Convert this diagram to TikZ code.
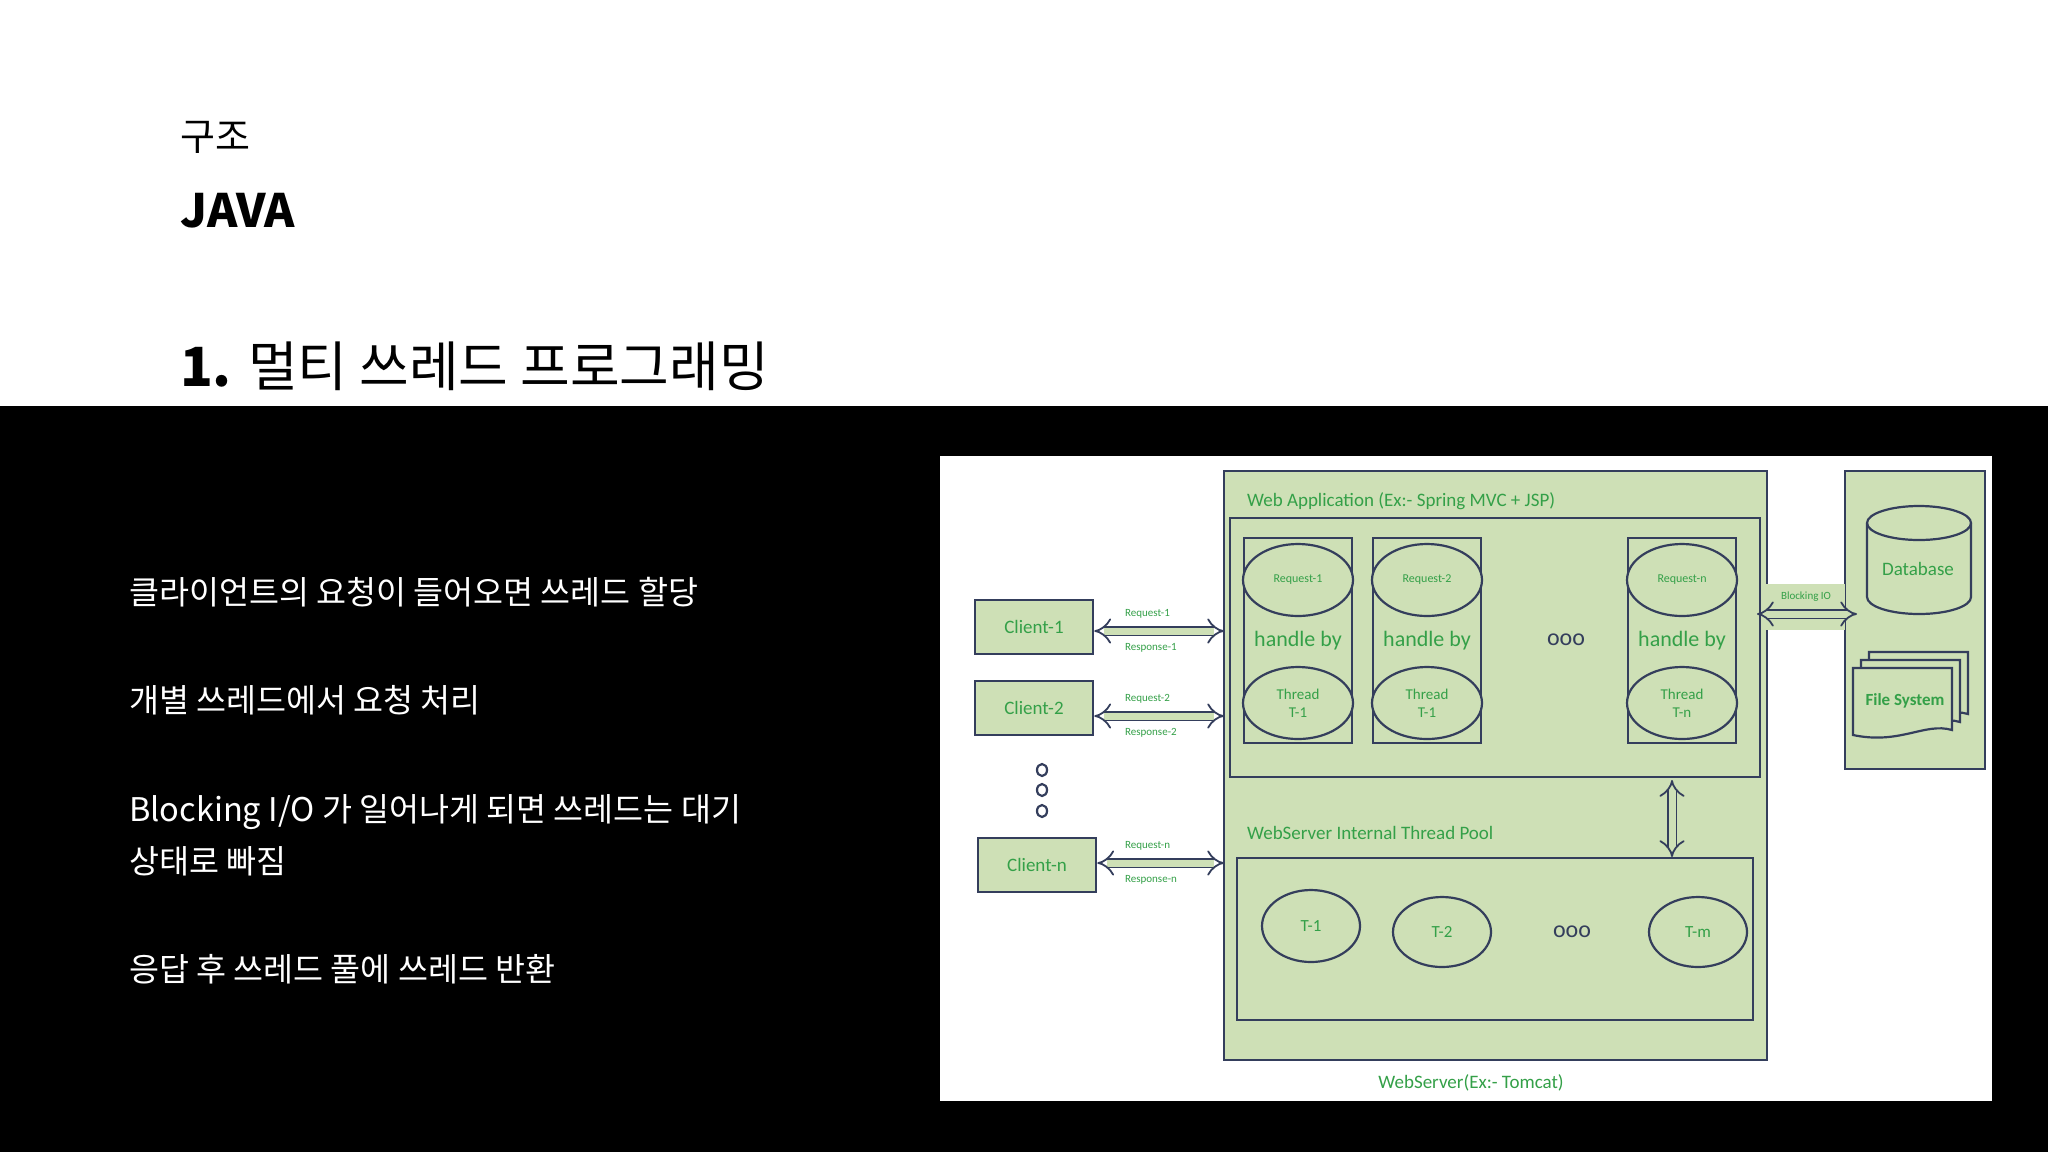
\documentclass[tikz,border=0pt]{standalone}
\usepackage{fontspec}
\setmainfont{Noto Sans CJK KR}
\newfontfamily\calfnt{Carlito}
\usetikzlibrary{arrows.meta,shapes.geometric}
\definecolor{gfill}{RGB}{206,224,182}
\definecolor{gline}{RGB}{52,62,92}
\definecolor{gtext}{RGB}{52,160,72}
\tikzset{
 gbox/.style={draw=gline,line width=1.3pt,fill=gfill},
 ell/.style={draw=gline,line width=1.1pt,ellipse,fill=gfill,inner sep=0pt},
 lbl/.style={text=gtext,font=\calfnt},
 darr/.style={draw=gline,line width=0.9pt,double=gfill,double distance=3.5pt,{Implies}-{Implies}},
 bullet/.style={text=white,anchor=west,font=\fontsize{16.3}{18}\selectfont},
}
\begin{document}
\begin{tikzpicture}[x=0.5pt,y=-0.5pt]
\useasboundingbox (0,0) rectangle (2048,1152);
\fill[black] (0,406) rectangle (2048,1152);
\node[anchor=west,font=\fontsize{19}{22}\selectfont] (t1) at (173,137) {구조};
\node[anchor=west,font=\fontsize{23}{28}\selectfont\bfseries] (t2) at (173,211) {JAVA};
\node[anchor=west,font=\fontsize{27}{30}\selectfont] (t3) at (173,366) {\textbf{1.} 멀티 쓰레드 프로그래밍};
\node[bullet] (b1) at (122,592) {클라이언트의 요청이 들어오면 쓰레드 할당};
\node[bullet] (b2) at (122,700) {개별 쓰레드에서 요청 처리};
\node[bullet,align=left,font=\fontsize{16.3}{26}\selectfont] (b3) at (122,835) {Blocking I/O 가 일어나게 되면 쓰레드는 대기\\상태로 빠짐};
\node[bullet] (b4) at (122,969) {응답 후 쓰레드 풀에 쓰레드 반환};
% panel
\fill[white] (940,456) rectangle (1992,1101);
\draw[gbox] (1224,471) rectangle (1767,1060);
\node[lbl,anchor=west,font=\calfnt\fontsize{9.5}{11}\selectfont] (wa) at (1240,501) {Web Application (Ex:- Spring MVC + JSP)};
\draw[gbox] (1230,518) rectangle (1760,777);
\foreach \x/\r/\t [count=\i] in {1298/Request-1/T-1,1427/Request-2/T-1,1682/Request-n/T-n}{
  \draw[gbox,line width=1.2pt] (\x-54,538) rectangle (\x+54,743);
  \node[ell,minimum width=55,minimum height=36,lbl,font=\calfnt\fontsize{6}{7}\selectfont] (rq\i) at (\x,580) {\r};
  \node[ell,minimum width=55,minimum height=36,lbl,align=center,font=\calfnt\fontsize{7.5}{9}\selectfont] (th\i) at (\x,703) {Thread\\\t};
  \node[lbl,font=\calfnt\fontsize{11}{13}\selectfont] (hb\i) at (\x,641) {handle by};
}
\node[text=gline,font=\calfnt\fontsize{12}{13}\selectfont] (dots1) at (1566,640) {ooo};
\coordinate (va) at (1672,780); \coordinate (vb) at (1672,857);
\draw[darr] (va) -- (vb);
\node[lbl,anchor=west,font=\calfnt\fontsize{9.5}{11}\selectfont] (tp) at (1240,833) {WebServer Internal Thread Pool};
\draw[gbox] (1237,858) rectangle (1753,1020);
\node[ell,minimum width=49,minimum height=36,lbl,font=\calfnt\fontsize{8.5}{10}\selectfont] (p1) at (1311,926) {T-1};
\node[ell,minimum width=49,minimum height=35,lbl,font=\calfnt\fontsize{8.5}{10}\selectfont] (p2) at (1442,932) {T-2};
\node[text=gline,font=\calfnt\fontsize{12}{13}\selectfont] (dots2) at (1572,932) {ooo};
\node[ell,minimum width=49,minimum height=35,lbl,font=\calfnt\fontsize{8.5}{10}\selectfont] (pm) at (1698,932) {T-m};
\node[lbl,font=\calfnt\fontsize{9.5}{11}\selectfont] (ws) at (1471,1083) {WebServer(Ex:- Tomcat)};
% right box
\draw[gbox] (1845,471) rectangle (1985,769);
\draw[gbox,line width=1.1pt] (1867,523) -- (1867,597) arc[start angle=180,end angle=0,x radius=52,y radius=17] -- (1971,523) arc[start angle=0,end angle=-180,x radius=52,y radius=17] -- cycle;
\draw[draw=gline,line width=1.1pt] (1867,523) arc[start angle=180,end angle=0,x radius=52,y radius=17];
\node[lbl,font=\calfnt\fontsize{9.5}{11}\selectfont] (dbl) at (1918,569) {Database};
\foreach \d in {16,8,0}{
 \draw[gbox,line width=1.1pt] (1853+\d,668-\d) -- (1952+\d,668-\d) -- (1952+\d,730-\d) .. controls (1925+\d,722-\d) and (1900+\d,745-\d) .. (1853+\d,735-\d) -- cycle;
}
\node[lbl,font=\calfnt\bfseries\fontsize{8.5}{10}\selectfont] (fs) at (1905,701) {File System};
\fill[gfill] (1763,584) rectangle (1845,630);
\coordinate (ba) at (1757,614); \coordinate (bb) at (1857,614);
\draw[darr] (ba) -- (bb);
\node[lbl,font=\calfnt\fontsize{5.5}{6}\selectfont] (bio) at (1806,597) {Blocking IO};
% clients
\node[gbox,minimum width=59,minimum height=27,lbl,font=\calfnt\fontsize{9.5}{11}\selectfont] (c1) at (1034,627) {Client-1};
\node[gbox,minimum width=59,minimum height=27,lbl,font=\calfnt\fontsize{9.5}{11}\selectfont] (c2) at (1034,708) {Client-2};
\node[gbox,minimum width=59,minimum height=27,lbl,font=\calfnt\fontsize{9.5}{11}\selectfont] (cn) at (1037,865) {Client-n};
\foreach \n/\y/\c in {1/631/c1,2/716/c2,n/863/cn}{
 \coordinate (e\n) at (1224,\y);
 \draw[darr] (\c.east |- e\n) -- (e\n);
 \node[lbl,font=\calfnt\fontsize{5.5}{6}\selectfont,anchor=west] at (1118,\y-17) {Request-\n};
 \node[lbl,font=\calfnt\fontsize{5.5}{6}\selectfont,anchor=west] at (1118,\y+17) {Response-\n};
}
\foreach \y in {770,790,811}{\draw[gline,line width=1.1pt] (1042,\y) ellipse (5 and 6);}
\end{tikzpicture}
\end{document}
